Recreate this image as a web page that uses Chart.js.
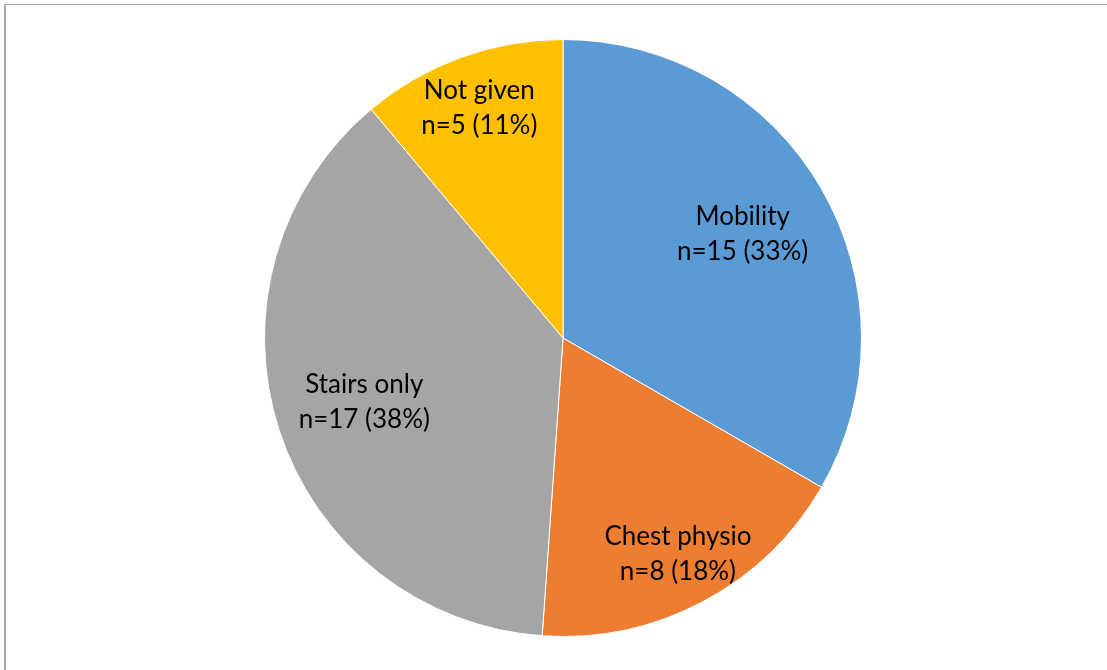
<!DOCTYPE html>
<html>
<head>
<meta charset="utf-8">
<script src="https://cdn.jsdelivr.net/npm/chart.js@4/dist/chart.umd.min.js"></script>
<style>
  html, body { margin: 0; padding: 0; background: #fff; }
  body { width: 1107px; height: 670px; position: relative; overflow: hidden; }
  #frame {
    position: absolute; left: 4px; top: 4px; width: 1200px; height: 800px;
    border-top: 1px solid #a6a6a6; border-left: 2px solid #a6a6a6;
  }
  #wrap { position: absolute; left: 264px; top: 39px; width: 598px; height: 598px; }
</style>
</head>
<body>
<div id="frame"></div>
<div id="wrap"><canvas id="chart"></canvas></div>
<script>
const categories = ['Mobility', 'Chest physio', 'Stairs only', 'Not given'];
const counts = [15, 8, 17, 5];
const percentLabels = ['33%', '18%', '38%', '11%'];
const sliceColors = ['#5B9BD5', '#ED7D31', '#A5A5A5', '#FFC000'];

// Excel-style "best fit" label distance, as fraction of the radius
const labelRadius = [0.695, 0.82, 0.70, 0.82];

// Draw the two-line labels inside each slice
const sliceLabels = {
  id: 'sliceLabels',
  afterDatasetsDraw(chart) {
    const ctx = chart.ctx;
    const meta = chart.getDatasetMeta(0);
    ctx.save();
    ctx.font = '26px Lato, "Open Sans", sans-serif';
    ctx.fillStyle = '#000';
    ctx.textAlign = 'center';
    ctx.textBaseline = 'middle';
    meta.data.forEach((arc, i) => {
      const p = arc.getProps(['x', 'y', 'startAngle', 'endAngle', 'outerRadius']);
      const mid = (p.startAngle + p.endAngle) / 2;
      const r = p.outerRadius * labelRadius[i];
      const x = p.x + Math.cos(mid) * r;
      const y = p.y + Math.sin(mid) * r;
      ctx.fillText(categories[i], x, y - 17.5);
      ctx.fillText(`n=${counts[i]} (${percentLabels[i]})`, x, y + 17.5);
    });
    ctx.restore();
  }
};

new Chart(document.getElementById('chart'), {
  type: 'pie',
  data: {
    labels: categories,
    datasets: [{
      data: counts,
      backgroundColor: sliceColors,
      borderColor: '#ffffff',
      borderWidth: 1
    }]
  },
  options: {
    responsive: true,
    maintainAspectRatio: false,
    animation: false,
    layout: { padding: 0 },
    plugins: {
      legend: { display: false },
      tooltip: { enabled: false }
    }
  },
  plugins: [sliceLabels]
});
</script>
</body>
</html>
